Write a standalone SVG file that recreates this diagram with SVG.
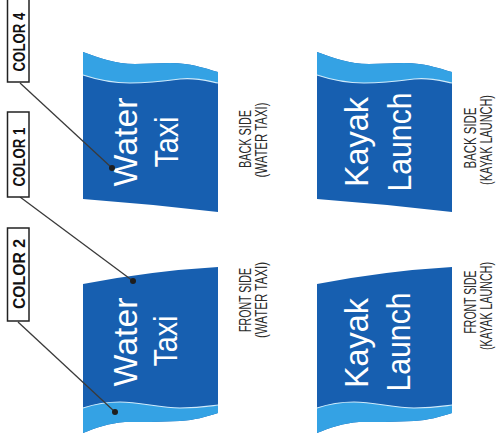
<svg xmlns="http://www.w3.org/2000/svg" width="501" height="440" viewBox="0 0 501 440">
<style>
.dark{fill:#175fb0}
.light{fill:#34a2e4}
.sep{fill:none;stroke:#cfeafa;stroke-width:1.2}
.ft{font-family:"Liberation Sans",Arial,sans-serif;font-size:34px;fill:#ffffff;text-anchor:middle}
.side{font-family:"Liberation Sans",Arial,sans-serif;font-size:17px;fill:#2a2a2a;text-anchor:middle}
.cl{font-family:"Liberation Sans",Arial,sans-serif;font-size:16px;font-weight:bold;fill:#111;text-anchor:middle}
.box{fill:#fff;stroke:#222;stroke-width:1.5}
.lead{stroke:#3a3a3a;stroke-width:1.3;fill:none}
.dot{fill:#1e1e1e}
</style>
<defs>
<g id="flagBack">
<path class="dark" d="M83,52 C100,58 115,64 135,64 C155,64 170,62 185,64 C200,66 210,70 218,72 L218,212 Q150,204 83,199 Z"/>
<path class="light" d="M83,52 C100,58 115,64 135,64 C155,64 170,62 185,64 C200,66 210,70 218,72 L218,83 C208,81 195,77 180,79 C165,81 150,83 130,83 C110,83 95,79 83,75 Z"/>
<path class="sep" d="M83,75 C95,79 110,83 130,83 C150,83 165,81 180,79 C195,77 208,81 218,83"/>
</g>
<g id="flagFront">
<path class="dark" d="M83,284 Q150,271 218,267 L218,413 C205,417 195,420 180,421 C160,422 140,422 125,422 C110,423 95,428 83,433 Z"/>
<path class="light" d="M83,408 C95,404 105,402 120,402 C140,402 160,408 180,408 C200,408 210,406 218,405 L218,413 C205,417 195,420 180,421 C160,422 140,422 125,422 C110,423 95,428 83,433 Z"/>
<path class="sep" d="M83,408 C95,404 105,402 120,402 C140,402 160,408 180,408 C200,408 210,406 218,405"/>
</g>
</defs>

<g id="flag-water-back">
<use href="#flagBack"/>
<text class="ft" transform="translate(137,142) rotate(-90)" textLength="89" lengthAdjust="spacingAndGlyphs">Water</text>
<text class="ft" transform="translate(178,142) rotate(-90)" textLength="51" lengthAdjust="spacingAndGlyphs">Taxi</text>
</g>
<g id="flag-water-front">
<use href="#flagFront"/>
<text class="ft" transform="translate(137,342) rotate(-90)" textLength="89" lengthAdjust="spacingAndGlyphs">Water</text>
<text class="ft" transform="translate(177,341) rotate(-90)" textLength="51" lengthAdjust="spacingAndGlyphs">Taxi</text>
</g>
<g id="flag-kayak-back">
<use href="#flagBack" transform="translate(234,0)"/>
<text class="ft" transform="translate(368,142) rotate(-90)" textLength="90" lengthAdjust="spacingAndGlyphs">Kayak</text>
<text class="ft" transform="translate(411,142) rotate(-90)" textLength="99" lengthAdjust="spacingAndGlyphs">Launch</text>
</g>
<g id="flag-kayak-front">
<use href="#flagFront" transform="translate(234,0)"/>
<text class="ft" transform="translate(368,343) rotate(-90)" textLength="90" lengthAdjust="spacingAndGlyphs">Kayak</text>
<text class="ft" transform="translate(410,342) rotate(-90)" textLength="99" lengthAdjust="spacingAndGlyphs">Launch</text>
</g>

<g id="label-water-back">
<text class="side" transform="translate(251,139) rotate(-90)" textLength="58" lengthAdjust="spacingAndGlyphs">BACK SIDE</text>
<text class="side" transform="translate(267,140) rotate(-90)" textLength="75" lengthAdjust="spacingAndGlyphs">(WATER TAXI)</text>
</g>
<g id="label-water-front">
<text class="side" transform="translate(251,300) rotate(-90)" textLength="64" lengthAdjust="spacingAndGlyphs">FRONT SIDE</text>
<text class="side" transform="translate(267,300) rotate(-90)" textLength="76" lengthAdjust="spacingAndGlyphs">(WATER TAXI)</text>
</g>
<g id="label-kayak-back">
<text class="side" transform="translate(476,138) rotate(-90)" textLength="61" lengthAdjust="spacingAndGlyphs">BACK SIDE</text>
<text class="side" transform="translate(492,140) rotate(-90)" textLength="90" lengthAdjust="spacingAndGlyphs">(KAYAK LAUNCH)</text>
</g>
<g id="label-kayak-front">
<text class="side" transform="translate(476,302) rotate(-90)" textLength="63" lengthAdjust="spacingAndGlyphs">FRONT SIDE</text>
<text class="side" transform="translate(492,306) rotate(-90)" textLength="88" lengthAdjust="spacingAndGlyphs">(KAYAK LAUNCH)</text>
</g>

<g id="connectors">
<path class="lead" d="M20,83 L112,168"/>
<path class="lead" d="M20,197 L133,281"/>
<path class="lead" d="M18,322 L115,412"/>
<circle class="dot" cx="112" cy="168" r="3"/>
<circle class="dot" cx="133" cy="281" r="3"/>
<circle class="dot" cx="115" cy="412" r="3"/>
</g>

<g id="color4">
<rect class="box" x="7.5" y="-1" width="21.5" height="83"/>
<text class="cl" transform="translate(24.5,42) rotate(-90)" textLength="59" lengthAdjust="spacingAndGlyphs">COLOR 4</text>
</g>
<g id="color1">
<rect class="box" x="7.5" y="112" width="21.5" height="85"/>
<text class="cl" transform="translate(24.5,157) rotate(-90)" textLength="59" lengthAdjust="spacingAndGlyphs">COLOR 1</text>
</g>
<g id="color2">
<rect class="box" x="7.5" y="228" width="21.5" height="93"/>
<text class="cl" transform="translate(24.5,274) rotate(-90)" textLength="70" lengthAdjust="spacingAndGlyphs">COLOR 2</text>
</g>
</svg>
